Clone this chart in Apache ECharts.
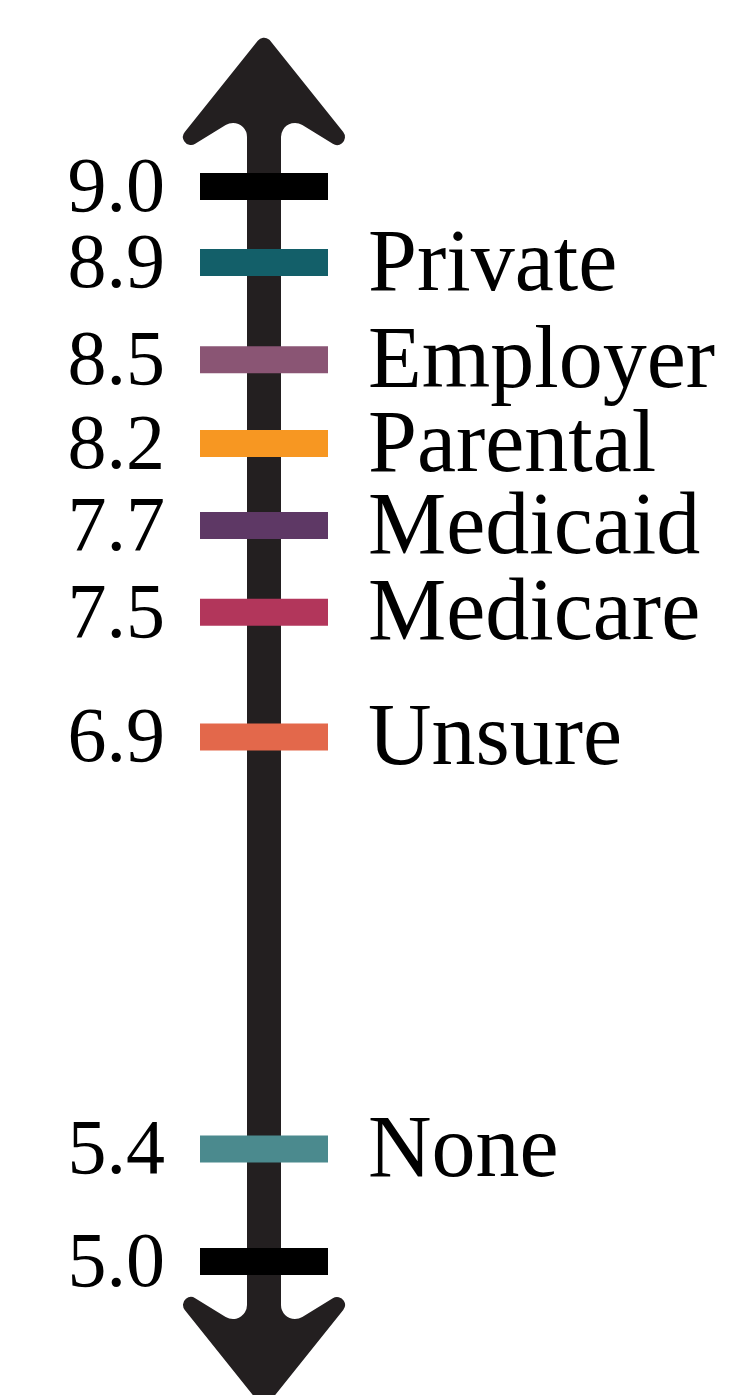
<!DOCTYPE html>
<html>
<head>
<meta charset="utf-8">
<script src="https://cdn.jsdelivr.net/npm/echarts@6/dist/echarts.min.js"></script>
<style>
  html, body { margin: 0; padding: 0; background: #fff; }
  #chart { width: 739px; height: 1395px; }
</style>
</head>
<body>
<div id="chart"></div>
<script>
// scale end marks
const scaleEnds = [9.0, 5.0]
// coverage type and its score
const coverage = ['Private', 'Employer', 'Parental', 'Medicaid', 'Medicare', 'Unsure', 'None']
const scores = [8.9, 8.5, 8.2, 7.7, 7.5, 6.9, 5.4]
const coverageColors = ['#135f69', '#8a5574', '#f79722', '#5e3865', '#b2365b', '#e3684b', '#4b8a8e']

const SHAFT = '#231f20'
const FONT = 'Liberation Serif'

// arrow head (tip up) with a short piece of shaft under it
const arrowPath = 'path://M-6.25,40.8 A8,8 0 0 1 6.25,40.8 L79.25,132 A8,8 0 0 1 68.81,143.82 ' +
    'L38.34,125.07 A14,14 0 0 0 17,137 L17,190 L-17,190 L-17,137 ' +
    'A14,14 0 0 0 -38.34,125.07 L-68.81,143.82 A8,8 0 0 1 -79.25,132 Z'

const chart = echarts.init(document.getElementById('chart'), null, {renderer: 'canvas'})

const option = {
    animation: false,
    backgroundColor: '#fff',
    grid: {left: 0, right: 211, top: 186.5, bottom: 133.5},
    xAxis: {type: 'value', min: -1, max: 1, show: false},
    yAxis: {
        type: 'value',
        min: 5,
        max: 9,
        // the original spaces the marks unevenly so labels don't collide
        breaks: [
            {start: 8.564, end: 8.836, gap: 0},
            {start: 8.255, end: 8.445, gap: 0},
            {start: 7.754, end: 8.146, gap: 0},
            {start: 7.557, end: 7.643, gap: 0},
            {start: 6.982, end: 7.418, gap: 0},
            {start: 5.671, end: 6.629, gap: 0},
            {start: 5.074, end: 5.326, gap: 0}
        ],
        breakArea: {show: false},
        axisLine: {
            show: true,
            onZero: true,
            symbol: [arrowPath, arrowPath],
            symbolSize: [162, 152.2],
            symbolOffset: [-66.6, 72.6],
            lineStyle: {color: SHAFT, width: 34, cap: 'butt'}
        },
        axisTick: {show: false},
        axisLabel: {show: false},
        splitLine: {show: false}
    },
    series: [
        {
            name: 'ends',
            type: 'scatter',
            symbol: 'rect',
            symbolSize: [128, 27],
            itemStyle: {color: '#000', opacity: 1},
            label: {
                show: true,
                position: 'left',
                distance: 35,
                offset: [0, 4],
                color: '#000',
                fontFamily: FONT,
                fontSize: 78,
                formatter: p => p.value[1].toFixed(1)
            },
            data: scaleEnds.map(v => [0, v])
        },
        {
            name: 'coverage',
            type: 'scatter',
            symbol: 'rect',
            symbolSize: [128, 27],
            itemStyle: {opacity: 1},
            label: {
                show: true,
                position: 'left',
                distance: 35,
                offset: [0, 4],
                color: '#000',
                fontFamily: FONT,
                fontSize: 78,
                formatter: p => p.value[1].toFixed(1)
            },
            data: scores.map((v, i) => ({
                name: coverage[i],
                value: [0, v],
                itemStyle: {color: coverageColors[i]}
            }))
        },
        {
            name: 'names',
            type: 'scatter',
            symbol: 'rect',
            symbolSize: [128, 27],
            itemStyle: {color: 'rgba(0,0,0,0)', opacity: 1},
            label: {
                show: true,
                position: 'right',
                distance: 40,
                offset: [0, 4],
                color: '#000',
                fontFamily: FONT,
                fontSize: 88,
                formatter: '{b}'
            },
            data: scores.map((v, i) => ({name: coverage[i], value: [0, v]}))
        }
    ]
}

chart.setOption(option)
</script>
</body>
</html>
